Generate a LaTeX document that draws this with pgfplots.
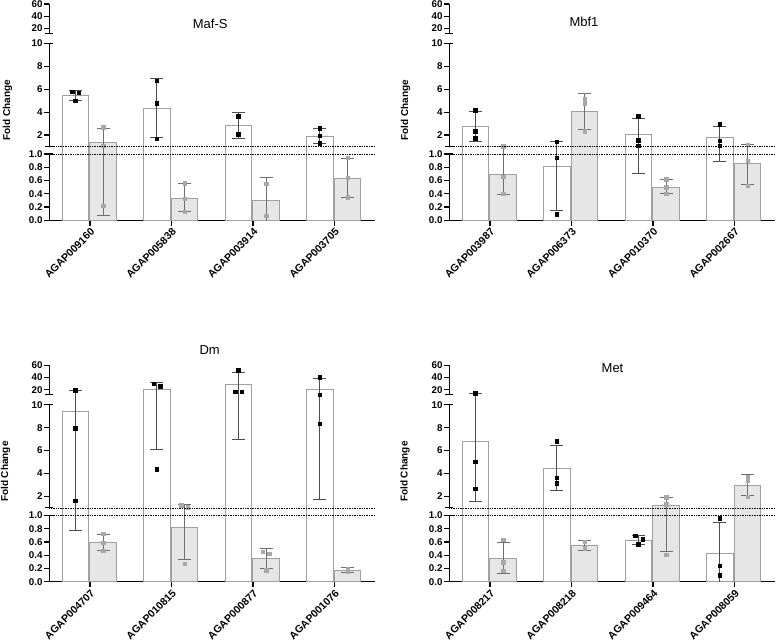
\documentclass[border=0pt]{standalone}
\usepackage{pgfplots}
\pgfplotsset{compat=1.18}
\usepackage{fontspec}
\setmainfont{Liberation Sans}
\definecolor{barline}{HTML}{A0A0A0}
\definecolor{grayfill}{HTML}{E6E6E6}
\definecolor{errw}{HTML}{4D4D4D}
\definecolor{errg}{HTML}{6E6E6E}
\definecolor{ptg}{HTML}{A8A8A8}

\pgfplotsset{
  panel/.style={
    scale only axis, width=326pt, height=216.3pt, anchor=south west,
    xmin=0, xmax=4, ymin=0, ymax=216.3,
    axis x line*=bottom, axis y line*=left,
    y axis line style={draw=none},
    x axis line style={black, line width=1.4pt},
    tick align=outside, major tick length=5.5pt,
    tick style={black, line width=1.2pt},
    xtick={0.5,1.5,2.5,3.5},
    ytick={0,13.26,26.52,39.78,53.04,66.3,85.26,108.18,131.1,154.02,176.94,192,204.15,216.3},
    yticklabels={0.0,0.2,0.4,0.6,0.8,1.0,2,4,6,8,10,20,40,60},
    yticklabel style={font=\bfseries\fontsize{9.8}{10}\selectfont, inner sep=1pt},
    xticklabel style={font=\bfseries\fontsize{10.5}{11}\selectfont, rotate=45, anchor=north east, inner sep=1pt},
    y filter/.code={\let\myy\pgfmathresult\pgfmathparse{\myy<=1 ? 66.3*\myy : (\myy<=10 ? 73.8+11.46*(\myy-1) : 192+0.6075*(\myy-20))}},
  },
  wbar/.style={ybar, bar width=26.5pt, bar shift=0pt, draw=barline, fill=white, line width=0.8pt},
  gbar/.style={ybar, bar width=26.5pt, bar shift=0pt, draw=barline, fill=grayfill, line width=0.8pt},
  werr/.style={errw, line width=0.8pt, mark=-, mark size=6.5pt, mark options={solid, line width=0.8pt}},
  gerr/.style={errg, line width=0.8pt, mark=-, mark size=6.5pt, mark options={solid, line width=0.8pt}},
  wpts/.style={only marks, mark=square*, mark size=1.7pt, black},
  gpts/.style={only marks, mark=square*, mark size=1.7pt, ptg, mark options={draw=ptg, fill=ptg}},
}
\newcommand{\eb}[4]{\addplot[#1] coordinates {(#2,#3) (#2,#4)};}
\newcommand{\decor}[2]{%
  \draw[line width=1.3pt] (#1pt,#2pt) -- (#1pt,#2pt+66.3pt);
  \draw[line width=1.3pt] (#1pt,#2pt+73.8pt) -- (#1pt,#2pt+177pt);
  \draw[line width=1.3pt] (#1pt,#2pt+186.8pt) -- (#1pt,#2pt+216.3pt);
  \draw[line width=1.2pt] (#1pt,#2pt+66.3pt) -- ++(3.5pt,0);
  \draw[line width=1.2pt] (#1pt-4pt,#2pt+73.8pt) -- ++(8pt,0);
  \draw[line width=1.2pt] (#1pt,#2pt+177pt) -- ++(3.5pt,0);
  \draw[line width=1.2pt] (#1pt-4pt,#2pt+186.8pt) -- ++(8pt,0);
  \draw[densely dotted, line width=0.7pt] (#1pt,#2pt+73.8pt) -- ++(326pt,0);
  \draw[densely dotted, line width=0.7pt] (#1pt,#2pt+66.3pt) -- ++(326pt,0);
}
\newcommand{\ylab}[2]{\node[rotate=90, font=\bfseries\fontsize{10}{12}\selectfont] at (#1pt,#2pt) {Fold Change};}

\begin{document}
\begin{tikzpicture}
\path[use as bounding box] (0,0) rectangle (776pt,642pt);

% ---------------- Maf-S ----------------
\begin{axis}[panel, at={(49.3pt,421.7pt)},
  xticklabels={AGAP009160,AGAP005838,AGAP003914,AGAP003705}]
\addplot[wbar] coordinates {(0.32,5.47) (1.32,4.36) (2.32,2.85) (3.32,1.92)};
\addplot[gbar] coordinates {(0.66,1.33) (1.66,0.336) (2.66,0.30) (3.66,0.638)};
\eb{werr}{0.32}{5.05}{5.87}
\eb{werr}{1.32}{1.77}{6.92}
\eb{werr}{2.32}{1.74}{3.98}
\eb{werr}{3.32}{1.26}{2.6}
\eb{gerr}{0.66}{0.07}{2.6}
\eb{gerr}{1.66}{0.13}{0.56}
\eb{gerr}{2.66}{-0.05}{0.65}
\eb{gerr}{3.66}{0.35}{0.94}
\addplot[wpts] coordinates {(0.28,5.78) (0.36,5.67) (0.32,5.0) (1.32,6.72) (1.32,4.77) (1.32,1.68) (2.32,3.66) (2.32,2.09) (3.32,2.61) (3.32,1.92) (3.32,1.28)};
\addplot[gpts] coordinates {(0.66,2.7) (0.66,1.07) (0.66,0.216) (1.66,0.56) (1.66,0.326) (1.66,0.13) (2.66,0.55) (2.66,0.065) (3.66,0.94) (3.66,0.64) (3.66,0.347)};
\end{axis}
\decor{49.3}{421.7}
\node[font=\fontsize{13}{15}\selectfont] at (210.2pt,618pt) {Maf-S};
\ylab{7.5}{532}

% ---------------- Mbf1 ----------------
\begin{axis}[panel, at={(449.3pt,421.7pt)},
  xticklabels={AGAP003987,AGAP006373,AGAP010370,AGAP002667}]
\addplot[wbar] coordinates {(0.32,2.76) (1.32,0.82) (2.32,2.07) (3.32,1.80)};
\addplot[gbar] coordinates {(0.66,0.69) (1.66,4.07) (2.66,0.50) (3.66,0.86)};
\eb{werr}{0.32}{1.45}{4.07}
\eb{werr}{1.32}{0.15}{1.48}
\eb{werr}{2.32}{0.71}{3.46}
\eb{werr}{3.32}{0.89}{2.76}
\eb{gerr}{0.66}{0.39}{1.01}
\eb{gerr}{1.66}{2.53}{5.6}
\eb{gerr}{2.66}{0.40}{0.62}
\eb{gerr}{3.66}{0.54}{1.17}
\addplot[wpts] coordinates {(0.32,4.16) (0.32,2.33) (0.32,1.74) (1.32,1.42) (1.32,0.944) (1.32,0.09) (2.32,3.66) (2.32,1.54) (2.32,1.07) (3.32,2.94) (3.32,1.48) (3.32,1.07)};
\addplot[gpts] coordinates {(0.66,1.01) (0.66,0.66) (0.66,0.40) (1.66,5.12) (1.66,4.74) (1.66,2.33) (2.66,0.62) (2.66,0.50) (2.66,0.40) (3.66,1.16) (3.66,0.90) (3.66,0.52)};
\end{axis}
\decor{449.3}{421.7}
\node[font=\fontsize{13}{15}\selectfont] at (584pt,620pt) {Mbf1};
\ylab{405.5}{532}

% ---------------- Dm ----------------
\begin{axis}[panel, at={(49.3pt,60.3pt)},
  xticklabels={AGAP004707,AGAP010815,AGAP000877,AGAP001076}]
\addplot[wbar] coordinates {(0.32,9.39) (1.32,20.7) (2.32,29.4) (3.32,20.5)};
\addplot[gbar] coordinates {(0.66,0.594) (1.66,0.82) (2.66,0.353) (3.66,0.172)};
\eb{werr}{0.32}{0.78}{19.3}
\eb{werr}{1.32}{6.14}{32.7}
\eb{werr}{2.32}{6.99}{48.6}
\eb{werr}{3.32}{1.75}{38.1}
\eb{gerr}{0.66}{0.47}{0.72}
\eb{gerr}{1.66}{0.33}{1.28}
\eb{gerr}{2.66}{0.196}{0.50}
\eb{gerr}{3.66}{0.136}{0.217}
\addplot[wpts] coordinates {(0.32,19.5) (0.32,7.95) (0.32,1.63) (1.28,29.4) (1.36,25.6) (1.32,4.39) (2.32,52.4) (2.28,16.7) (2.36,16.7) (3.32,40.9) (3.32,11.3) (3.32,8.35)};
\addplot[gpts] coordinates {(0.66,0.72) (0.66,0.59) (0.66,0.47) (1.62,1.23) (1.70,1.05) (1.66,0.267) (2.62,0.45) (2.70,0.42) (2.66,0.176) (3.66,0.20) (3.66,0.17) (3.66,0.15)};
\end{axis}
\decor{49.3}{60.3}
\node[font=\fontsize{13}{15}\selectfont] at (209.7pt,292pt) {Dm};
\ylab{5.5}{170.3}

% ---------------- Met ----------------
\begin{axis}[panel, at={(449.3pt,60.3pt)},
  xticklabels={AGAP008217,AGAP008218,AGAP009464,AGAP008059}]
\addplot[wbar] coordinates {(0.32,6.84) (1.32,4.48) (2.32,0.624) (3.32,0.43)};
\addplot[gbar] coordinates {(0.66,0.357) (1.66,0.55) (2.66,1.19) (3.66,2.97)};
\eb{werr}{0.32}{1.54}{14.1}
\eb{werr}{1.32}{2.54}{6.46}
\eb{werr}{2.32}{0.565}{0.70}
\eb{werr}{3.32}{-0.04}{0.896}
\eb{gerr}{0.66}{0.126}{0.60}
\eb{gerr}{1.66}{0.478}{0.63}
\eb{gerr}{2.66}{0.46}{1.93}
\eb{gerr}{3.66}{2.07}{3.9}
\addplot[wpts] coordinates {(0.32,14.1) (0.32,5.03) (0.32,2.67) (1.32,6.81) (1.32,3.61) (1.32,3.15) (2.28,0.69) (2.37,0.644) (2.32,0.565) (3.32,0.96) (3.32,0.237) (3.32,0.10)};
\addplot[gpts] coordinates {(0.66,0.63) (0.66,0.297) (0.66,0.166) (1.66,0.60) (1.66,0.51) (1.66,0.50) (2.66,1.92) (2.66,1.31) (2.66,0.41) (3.66,3.72) (3.66,3.37) (3.66,1.98)};
\end{axis}
\decor{449.3}{60.3}
\node[font=\fontsize{13}{15}\selectfont] at (612.5pt,274pt) {Met};
\ylab{405}{170.3}
\end{tikzpicture}
\end{document}
